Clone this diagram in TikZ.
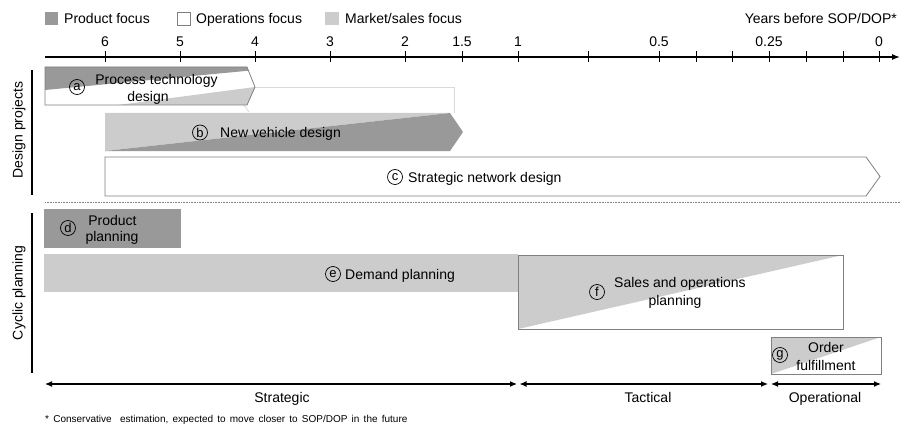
\documentclass[tikz,border=0pt]{standalone}
\usepackage{fontspec}
\setmainfont{Liberation Sans}
\usetikzlibrary{arrows.meta}
\definecolor{prodgray}{HTML}{999999}
\definecolor{mktgray}{HTML}{CCCCCC}
\definecolor{edgegray}{HTML}{808080}
\definecolor{faintgray}{HTML}{D9D9D9}
\begin{document}
\begin{tikzpicture}[x=1pt,y=-1pt,
  txt/.style={inner sep=0pt, font=\fontsize{14}{16}\selectfont},
  note/.style={inner sep=0pt, font=\fontsize{10}{12}\selectfont},
  tag/.style={circle, draw, line width=0.7pt, inner sep=0pt, minimum size=15pt, font=\fontsize{13}{13}\selectfont},
  boxedge/.style={draw=edgegray, line width=0.8pt},
  sidebar/.style={line width=2pt},
  tickmark/.style={line width=1pt},
  span/.style={line width=1.2pt, {Latex[length=7pt,width=6pt]}-{Latex[length=7pt,width=6pt]}},
]
\useasboundingbox (0,0) rectangle (901,425);

% legend
\fill[prodgray] (45,12) rectangle (58,25);
\node[txt, anchor=base west] (legP) at (64,23.5) {Product focus};
\draw[edgegray, fill=white, line width=0.8pt] (177.5,12.5) rectangle (190.5,25.5);
\node[txt, anchor=base west] (legO) at (196,23.5) {Operations focus};
\fill[mktgray] (325,12) rectangle (339,25);
\node[txt, anchor=base west] (legM) at (345,23.5) {Market/sales focus};
\node[txt, anchor=base east] (years) at (897,23.5) {Years before SOP/DOP*};

% time axis
\coordinate (axL) at (45,57);
\coordinate (axR) at (900,57);
\draw[line width=1.2pt, -{Latex[length=8pt,width=6pt]}] (axL) -- (axR);
\foreach \x in {105,180,255,330,405,462,518,588,659,696,732,769,806,843,879}
  \draw[tickmark] (\x,51) -- (\x,62);
\foreach \x/\v in {105/6,180/5,255/4,330/3,405/2,462/1.5,518/1,659/0.5,769/0.25,879/0}
  \node[txt, anchor=base] (t\x) at (\x,46.5) {\v};

% section bars and labels
\draw[sidebar] (32,70) -- (32,195);
\node[txt, rotate=90] (secD) at (19,130) {Design projects};
\draw[sidebar] (32,213) -- (32,373);
\node[txt, rotate=90] (secC) at (19,293) {Cyclic planning};
\draw[edgegray, line width=0.8pt, dash pattern=on 0.8pt off 0.8pt] (45,202) -- (901,202);

% faint frame behind (a)
\draw[faintgray, line width=0.8pt] (255,87) -- (454,87) -- (454,113);
\draw[faintgray, line width=0.8pt] (244,105) -- (249,112);

% (a) process technology design
\fill[white] (45,67) -- (247,67) -- (255,87) -- (247,105) -- (45,105) -- cycle;
\fill[prodgray] (45,67) -- (247,67) -- (248.5,70.7) -- (45,90) -- cycle;
\fill[mktgray] (118,105) -- (247,105) -- (255,87) -- cycle;
\draw[boxedge] (45,67) -- (247,67) -- (255,87) -- (247,105) -- (45,105) -- cycle;
\node[tag] (ta) at (77,87) {a};
\node[txt, anchor=base] (la1) at (156.5,85) {Process technology};
\node[txt, anchor=base] (la2) at (148,101.5) {design};

% (b) new vehicle design
\fill[mktgray] (105,113) -- (450,113) -- (105,151) -- cycle;
\fill[prodgray] (105,151) -- (450,113) -- (463,132) -- (450,151) -- cycle;
\node[tag] (tb) at (200,132.5) {b};
\node[txt, anchor=base west] (lb) at (220,137) {New vehicle design};

% (c) strategic network design
\draw[boxedge, fill=white] (105,157) -- (866,157) -- (880,176.5) -- (866,196) -- (105,196) -- cycle;
\node[tag] (tc) at (395,177) {c};
\node[txt, anchor=base west] (lc) at (408,182) {Strategic network design};

% (d) product planning
\fill[prodgray] (44,209) rectangle (181,248);
\node[tag] (td) at (68,228) {d};
\node[txt, anchor=base] (ld1) at (112.5,225.5) {Product};
\node[txt, anchor=base] (ld2) at (112,241.5) {planning};

% (e) demand planning
\fill[mktgray] (44,254) rectangle (518,292);
\node[tag] (te) at (333,274) {e};
\node[txt, anchor=base west] (le) at (345,279) {Demand planning};

% (f) sales and operations planning
\fill[white] (518,255) rectangle (843,329);
\fill[mktgray] (518,255) -- (843,255) -- (518,329) -- cycle;
\draw[boxedge] (518,255) rectangle (843,329);
\node[tag] (tf) at (597,292) {f};
\node[txt, anchor=base] (lf1) at (680,287.5) {Sales and operations};
\node[txt, anchor=base] (lf2) at (675,305) {planning};

% (g) order fulfillment
\fill[white] (771,337) rectangle (881,374);
\fill[mktgray] (771,337) -- (881,337) -- (771,374) -- cycle;
\draw[boxedge] (771,337) rectangle (881,374);
\node[tag] (tg) at (780,355) {g};
\node[txt, anchor=base] (lg1) at (826,352.5) {Order};
\node[txt, anchor=base] (lg2) at (826,370.5) {fulfillment};

% planning horizons
\coordinate (sA) at (45,384);
\coordinate (sB) at (517,384);
\coordinate (tA) at (519.5,384);
\coordinate (tB) at (768,384);
\coordinate (oA) at (771,384);
\coordinate (oB) at (881,384);
\draw[span] (sA) -- (sB);
\draw[span] (tA) -- (tB);
\draw[span] (oA) -- (oB);
\node[txt, anchor=base] (hS) at (282,402.5) {Strategic};
\node[txt, anchor=base] (hT) at (648,402.5) {Tactical};
\node[txt, anchor=base] (hO) at (825,402.5) {Operational};

% footnote
\node[note, anchor=base west] (fn) at (45,422) {\spaceskip=4.2pt\relax * Conservative\ \ estimation, expected to move closer to SOP/DOP in the future};
\end{tikzpicture}
\end{document}
